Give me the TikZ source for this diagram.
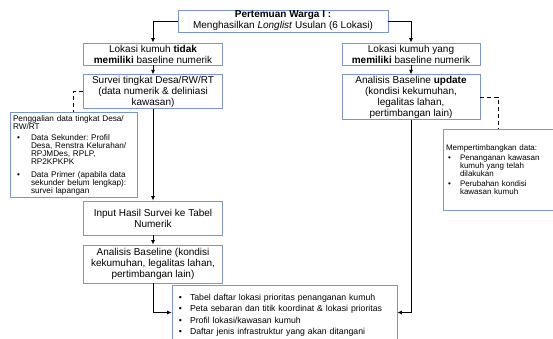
\documentclass[tikz,border=0pt]{standalone}
\usepackage{fontspec}
\setmainfont{Liberation Sans}
\usepackage{enumitem}
\usetikzlibrary{arrows.meta}
\frenchspacing
\definecolor{boxblue}{RGB}{125,150,200}
\tikzset{
	box/.style={draw=boxblue,line width=0.9pt,fill=white,align=center,inner sep=1pt,font=\fontsize{10}{11}\selectfont},
	notebox/.style={draw=boxblue,line width=0.9pt,fill=white,align=left,inner sep=3pt},
	arr/.style={-{Latex[length=4.5pt,width=4pt]},line width=0.8pt},
	dashline/.style={line width=0.8pt,dash pattern=on 4pt off 3pt},
}
\begin{document}
\begin{tikzpicture}[x=1pt,y=-1pt]
			\useasboundingbox (0,0) rectangle (553,339);
			% kotak atas
			\node[box,minimum width=210pt,minimum height=22pt] (top) at (283,21) {\textbf{Pertemuan Warga I :}\\Menghasilkan \textit{Longlist} Usulan (6 Lokasi)};
			% jalur kiri
			\node[box,minimum width=139pt,minimum height=22pt] (lt1) at (153,54) {Lokasi kumuh \textbf{tidak}\\\textbf{memiliki} baseline numerik};
			\node[box,minimum width=139pt,minimum height=33pt] (lt2) at (153,91.5) {Survei tingkat Desa/RW/RT\\(data numerik \& deliniasi\\kawasan)};
			\node[box,minimum width=139pt,minimum height=34pt] (lt3) at (153,218) {Input Hasil Survei ke Tabel\\Numerik};
			\node[box,minimum width=139pt,minimum height=38pt] (lt4) at (153,264) {Analisis Baseline (kondisi\\kekumuhan, legalitas lahan,\\pertimbangan lain)};
			% jalur kanan
			\node[box,minimum width=138pt,minimum height=22pt] (rt1) at (411,54) {Lokasi kumuh yang\\\textbf{memiliki} baseline numerik};
			\node[box,minimum width=138pt,minimum height=44pt] (rt2) at (411,97) {Analisis Baseline \textbf{update}\\(kondisi kekumuhan,\\legalitas lahan,\\pertimbangan lain)};
			% catatan
			\node[notebox,text width=121pt,minimum height=84pt,font=\fontsize{8.2}{8}\selectfont] (pg) at (73.5,155) {
					Penggalian data tingkat Desa/\newline RW/RT
					\begin{itemize}[label=\textbullet,leftmargin=18pt,labelsep=11pt,topsep=3pt,itemsep=5pt,parsep=0pt,partopsep=0pt]
						\item Data Sekunder: Profil\newline Desa, Renstra Kelurahan/\newline RPJMDes, RPLP,\newline RP2KPKPK
						\item Data Primer (apabila data\newline sekunder belum lengkap):\newline survei lapangan
					\end{itemize}
				};
			\node[notebox,text width=104pt,minimum height=81pt,font=\fontsize{8}{8}\selectfont] (mp) at (498,170) {
					Mempertimbangkan data:
					\begin{itemize}[label=\textbullet,leftmargin=14pt,labelsep=9pt,topsep=2pt,itemsep=2pt,parsep=0pt,partopsep=0pt]
						\item Penanganan kawasan\newline kumuh yang telah\newline dilakukan
						\item Perubahan kondisi\newline kawasan kumuh
					\end{itemize}
				};
			% keluaran
			\node[notebox,text width=219pt,minimum height=43pt,font=\fontsize{8.7}{11.5}\selectfont] (out) at (284.5,312.5) {
					\begin{itemize}[label=\textbullet,leftmargin=15pt,labelsep=8pt,topsep=0pt,itemsep=0pt,parsep=0pt,partopsep=0pt]
						\item Tabel daftar lokasi prioritas penanganan kumuh
						\item Peta sebaran dan titik koordinat \& lokasi prioritas
						\item Profil lokasi/kawasan kumuh
						\item Daftar jenis infrastruktur yang akan ditangani
					\end{itemize}
				};
			% panah
			\draw[arr] (top.west) -| (lt1.north);
			\draw[arr] (top.east) -| (rt1.north);
			\draw[arr] (lt1) -- (lt2);
			\draw[arr] (lt2) -- (lt3);
			\draw[arr] (lt3) -- (lt4);
			\draw[arr] (lt4.south) |- (out.west);
			\draw[arr] (rt1) -- (rt2);
			\draw[arr] (rt2.south) |- (out.east);
			\draw[dashline] (lt2.west) -| (pg.north);
			\draw[dashline] (rt2.east) -| (mp.north);
		\end{tikzpicture}
\end{document}
